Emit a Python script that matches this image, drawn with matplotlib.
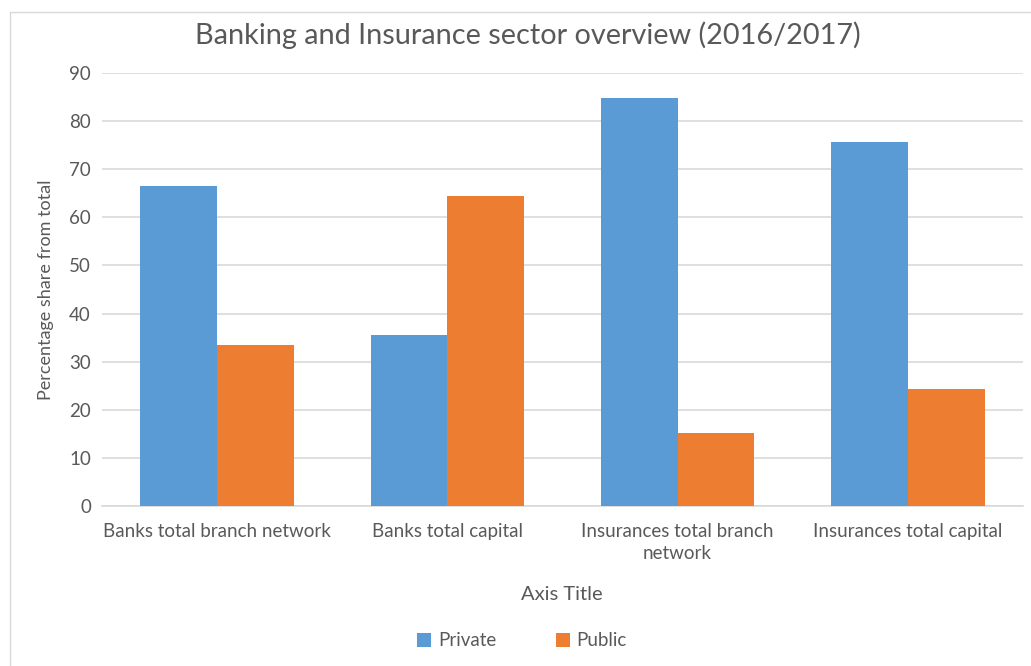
import numpy as np
import matplotlib.pyplot as plt
from matplotlib.patches import Rectangle

categories = ["Banks total branch network", "Banks total capital",
              "Insurances total branch\nnetwork", "Insurances total capital"]
private = [66.5, 35.5, 84.9, 75.7]
public = [33.5, 64.5, 15.1, 24.3]
yticks = [0, 10, 20, 30, 40, 50, 60, 70, 80, 90]

plt.rcParams['font.family'] = ['Lato', 'DejaVu Sans']
txt = '#595959'
grid = '#d9d9d9'

fig = plt.figure(figsize=(10.31, 6.66), dpi=100)
fig.patches.append(Rectangle((10 / 1031, -0.1), 1.2, (666 - 12) / 666 + 0.1,
                             transform=fig.transFigure, fill=False,
                             edgecolor='#d9d9d9', linewidth=1))

ax = fig.add_axes([102 / 1031, 1 - 506 / 666, 921 / 1031, (506 - 73) / 666])
x = np.arange(len(categories))
w = 1 / 3
ax.bar(x - w / 2, private, w, color='#5B9BD5', label='Private', zorder=3)
ax.bar(x + w / 2, public, w, color='#ED7D31', label='Public', zorder=3)

ax.set_xlim(-0.5, len(categories) - 0.5)
ax.set_ylim(0, 90)
ax.set_yticks(yticks)
ax.set_xticks(x)
ax.set_xticklabels(categories, fontsize=13.5, color=txt, linespacing=1.35)
ax.tick_params(axis='y', length=0, pad=8, labelsize=13.5, labelcolor=txt)
ax.tick_params(axis='x', length=0, pad=12)
ax.grid(axis='y', color=grid, linewidth=1.2, zorder=0)
for s in ['top', 'right', 'left']:
    ax.spines[s].set_visible(False)
ax.spines['bottom'].set_color(grid)
ax.spines['bottom'].set_linewidth(1.2)

ax.set_ylabel('Percentage share from total', fontsize=13, color=txt, labelpad=11)
fig.text(562 / 1031, 1 - 594 / 666, 'Axis Title', ha='center', va='center',
         fontsize=14.5, color=txt)
fig.text(528 / 1031, 1 - 35 / 666, 'Banking and Insurance sector overview (2016/2017)',
         ha='center', va='center', fontsize=20.8, color=txt)

fig.legend(loc='center', bbox_to_anchor=(522 / 1031, 1 - 641 / 666), ncol=2,
           frameon=False, fontsize=13.5, labelcolor=txt, handlelength=0.75,
           handleheight=0.75, handletextpad=0.35, columnspacing=3.2)

fig.savefig('out.png', dpi=100)
